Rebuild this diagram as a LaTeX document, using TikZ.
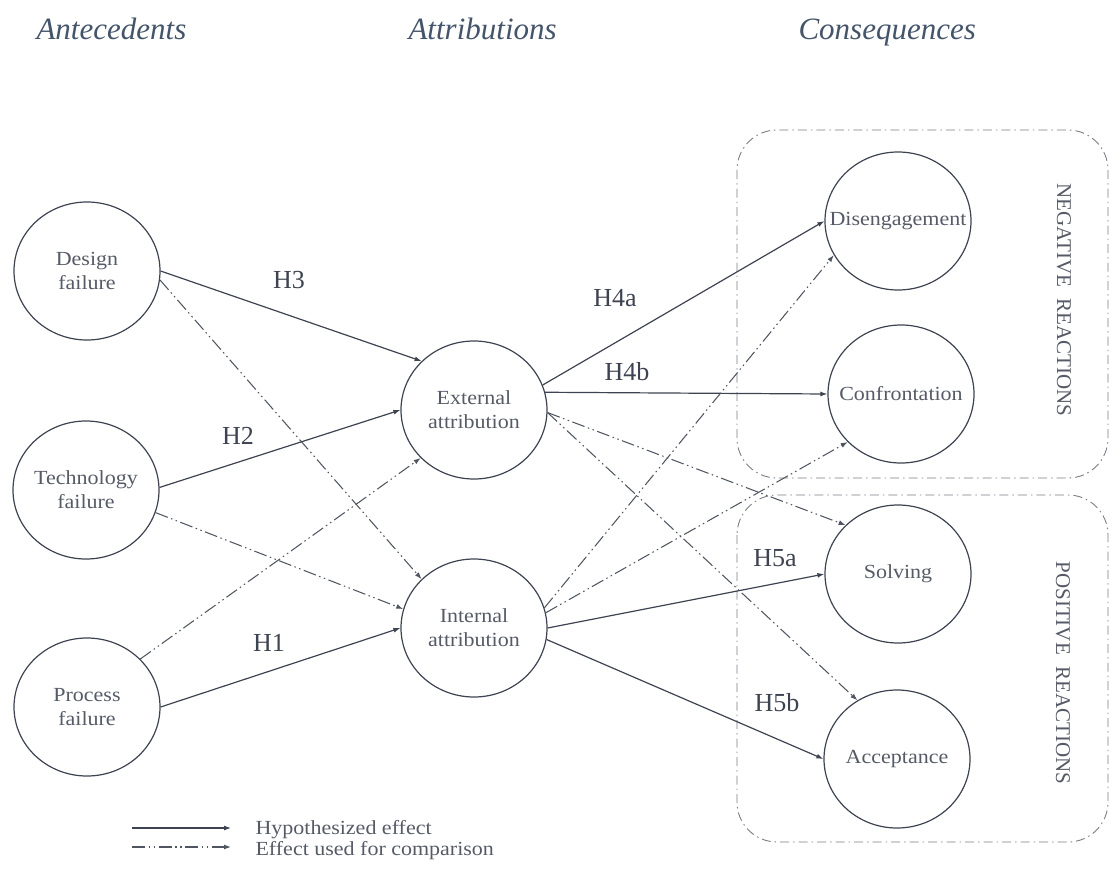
\documentclass[tikz,border=0pt]{standalone}
\usepackage{fontspec}
\setmainfont{Liberation Serif}
\newfontfamily\widefont[FakeStretch=1.1]{Liberation Serif}
\usetikzlibrary{arrows.meta,shapes.geometric}
\definecolor{linec}{HTML}{3D4350}
\definecolor{textc}{HTML}{555A66}
\definecolor{headc}{HTML}{44546A}
\definecolor{boxc}{HTML}{7A7E86}
\tikzset{
  circ/.style={ellipse,draw=linec,line width=1.2pt,minimum width=146pt,minimum height=138pt,inner xsep=-30pt,inner ysep=0pt,align=center,text=textc,font=\widefont\fontsize{20}{24}\selectfont},
  hyp/.style={draw=linec,line width=1.2pt,-{Latex[length=7pt,width=5pt]}},
  cmp/.style={draw=linec!90,line width=1.05pt,dash pattern=on 13pt off 3.5pt on 1.5pt off 3.5pt on 1.5pt off 3.5pt,-{Latex[length=7pt,width=5pt]}},
  grp/.style={draw=boxc,line width=0.9pt,rounded corners=40pt,dash pattern=on 9pt off 4pt on 1.5pt off 4pt},
  hlab/.style={text=linec,font=\fontsize{26}{30}\selectfont},
  head/.style={text=headc,font=\fontsize{31}{36}\selectfont\itshape,anchor=base west},
  side/.style={text=textc,font=\fontsize{21}{25}\selectfont,rotate=-90},
  leg/.style={text=textc,font=\widefont\fontsize{20}{24}\selectfont,anchor=west}
}
\begin{document}
\begin{tikzpicture}[x=1pt,y=-1pt]
\useasboundingbox (0,0) rectangle (1110,870);
% headers
\node[head] (hA) at (33,39) {Antecedents};
\node[head] (hB) at (405,39) {Attributions};
\node[head] (hC) at (795,39) {Consequences};
% groups
\draw[grp] (737,130) rectangle (1108,478);
\draw[grp] (737,495) rectangle (1108,842);
\node[side] (neg) at (1064,300) {NEGATIVE\hspace{0.55em}REACTIONS};
\node[side] (pos) at (1063,673) {POSITIVE\hspace{0.55em}REACTIONS};
% nodes
\node[circ] (design) at (87,271) {Design\\failure};
\node[circ] (tech) at (86,490) {Technology\\failure};
\node[circ] (proc) at (87,707) {Process\\failure};
\node[circ] (ext) at (474,410) {External\\attribution};
\node[circ] (int) at (474,628) {Internal\\attribution};
\node[circ] (dis) at (898,221) {Disengagement};
\node[circ] (conf) at (901,394) {Confrontation};
\node[circ] (solv) at (898,574) {Solving};
\node[circ] (acc) at (897,759) {Acceptance};
% hypothesized effects
\draw[hyp] (design.0) -- (ext.137);
\draw[hyp] (tech.2) -- (ext.180);
\draw[hyp] (proc.0) -- (int.180);
\draw[hyp] (ext.20) -- (dis.180);
\draw[hyp] (ext.14) -- (conf.180);
\draw[hyp] (int.0) -- (solv.180);
\draw[hyp] (int.-9) -- (acc.180);
% comparison effects
\draw[cmp] (design.-7) -- (int.137);
\draw[cmp] (tech.-18) -- (int.165);
\draw[cmp] (proc.42) -- (ext.222);
\draw[cmp] (int.16) -- (dis.208);
\draw[cmp] (int.12) -- (conf.222);
\draw[cmp] (ext.-2) -- (solv.137);
\draw[cmp] (ext.-2) -- (acc.124);
% labels
\node[hlab] (lH3) at (289,280) {H3};
\node[hlab] (lH2) at (238,436) {H2};
\node[hlab] (lH1) at (269,643) {H1};
\node[hlab] (lH4a) at (615,298) {H4a};
\node[hlab] (lH4b) at (627,372) {H4b};
\node[hlab] (lH5a) at (775,558) {H5a};
\node[hlab] (lH5b) at (777,703) {H5b};
% legend
\coordinate (l1a) at (132,828);
\coordinate (l1b) at (231,828);
\coordinate (l2a) at (132,847);
\coordinate (l2b) at (231,847);
\draw[hyp] (l1a) -- (l1b);
\draw[cmp] (l2a) -- (l2b);
\node[leg] (t1) at (252,830) {Hypothesized effect};
\node[leg] (t2) at (252,851) {Effect used for comparison};
\end{tikzpicture}
\end{document}
